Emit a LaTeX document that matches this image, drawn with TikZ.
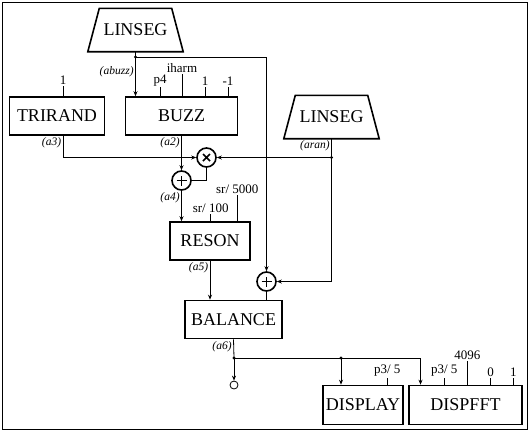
\documentclass[tikz,border=0pt]{standalone}
\usepackage{fontspec}
\setmainfont{Liberation Serif}
\usetikzlibrary{arrows.meta, calc}

\tikzset{
  opbox/.style={draw, line width=1.6pt, minimum height=38pt, inner sep=0pt, font=\fontsize{18}{20}\selectfont},
  genbox/.style={minimum width=72pt, minimum height=43pt, inner sep=0pt, font=\fontsize{18}{20}\selectfont},
  sumnode/.style={circle, draw, line width=1.6pt, minimum size=19pt, inner sep=0pt},
  plusnode/.style={sumnode, path picture={
    \draw[line width=1.6pt] ([xshift=-5pt]path picture bounding box.center) -- ([xshift=5pt]path picture bounding box.center)
      ([yshift=-5pt]path picture bounding box.center) -- ([yshift=5pt]path picture bounding box.center);}},
  timesnode/.style={sumnode, path picture={
    \draw[line width=1.6pt] ([shift={(-3.5pt,-3.5pt)}]path picture bounding box.center) -- ([shift={(3.5pt,3.5pt)}]path picture bounding box.center)
      ([shift={(-3.5pt,3.5pt)}]path picture bounding box.center) -- ([shift={(3.5pt,-3.5pt)}]path picture bounding box.center);}},
  parm/.style={font=\fontsize{13}{14}\selectfont, inner sep=1pt, above},
  sig/.style={font=\fontsize{11.5}{12}\selectfont\itshape, inner sep=1.5pt},
  wire/.style={line width=0.8pt},
  arr/.style={wire, -{Stealth[length=5pt, width=4pt]}},
}

\begin{document}
\begin{tikzpicture}[x=1pt,y=1pt,yscale=-1]
\useasboundingbox (0,0) rectangle (529,432);
\draw[line width=0.8pt] (2,2) rectangle (527,429);

% generators and units
\node[genbox] (linA) at (135.5,30) {LINSEG};
\node[genbox] (linB) at (331.5,117) {LINSEG};
\foreach \n in {linA,linB}
  \draw[line width=1.6pt] (\n.north west) -- (\n.north east) -- ($(\n.south east)+(11.5,0)$)
    -- ($(\n.south west)+(-11.5,0)$) -- cycle;
\node[opbox, minimum width=95pt] (tri) at (57,116) {TRIRAND};
\node[opbox, minimum width=112pt] (buzz) at (181.5,116) {BUZZ};
\node[timesnode] (mul) at (206.5,157.5) {};
\node[plusnode] (addA) at (181.5,180.5) {};
\node[opbox, minimum width=80pt] (reson) at (210,241) {RESON};
\node[plusnode] (addB) at (266.5,281.5) {};
\node[opbox, minimum width=97pt] (bal) at (233.5,319.5) {BALANCE};
\node[circle, draw, line width=0.8pt, minimum size=8pt, inner sep=0pt] (outc) at (234,385) {};
\node[opbox, minimum width=80pt, minimum height=39pt] (disp) at (363,405) {DISPLAY};
\node[opbox, minimum width=113pt, minimum height=39pt] (fft) at (465.5,405) {DISPFFT};

% branch points
\coordinate (jA) at (135.5,57);
\coordinate (jB) at (331.5,157.5);
\coordinate (jC) at (234,358);
\coordinate (jD) at (341,358);
\foreach \j in {jA,jB,jC,jD}
  \fill (\j) circle (1.6);

% parameters
\draw[wire] ([xshift=6pt]tri.north) -- ++(0,-10) node[parm] {1};
\foreach \dx/\h/\t in {-21.5/9/p4, 0.5/22/iharm, 23.5/9/1, 46.5/9/-1}
  \draw[wire] ([xshift=\dx pt]buzz.north) -- ++(0,-\h) node[parm] {\t};
\foreach \dx/\h/\t in {0.7/7/{sr/ 100}, 27.3/26/{sr/ 5000}}
  \draw[wire] ([xshift=\dx pt]reson.north) -- ++(0,-\h) node[parm] {\t};
\draw[wire] ([xshift=24.3pt]disp.north) -- ++(0,-7) node[parm] {p3/ 5};
\foreach \dx/\h/\t in {-21.2/7/{p3/ 5}, 1.8/24/4096, 25.2/7/0, 47.8/7/1}
  \draw[wire] ([xshift=\dx pt]fft.north) -- ++(0,-\h) node[parm] {\t};

% signals
\draw[arr] (linA.south) -- (linA.south |- buzz.north) node[pos=0.44, sig, anchor=east] {(abuzz)};
\draw[arr] (jA) -| (addB.north);
\draw[arr] ([xshift=6pt]tri.south) |- (mul.west) node[pos=0, sig, anchor=north east] {(a3)};
\draw[arr] (buzz.south) -- (addA.north) node[pos=0, sig, anchor=north east] {(a2)};
\draw[wire] (linB.south) -- (jB) node[pos=0, sig, anchor=north east] {(aran)};
\draw[arr] (jB) -- (mul.east);
\draw[arr] (jB) |- (addB.east);
\draw[wire] (mul.south) |- (addA.east);
\draw[arr] (addA.south) -- (addA.south |- reson.north) node[pos=0, sig, anchor=north east] {(a4)};
\draw[arr] (reson.south) -- (reson.south |- bal.north) node[pos=0, sig, anchor=north east] {(a5)};
\draw[wire] (addB.south) -- (addB.south |- bal.north);
\draw[wire] (bal.south) -- (jC) node[pos=0, sig, anchor=north east] {(a6)};
\draw[arr] (jC) -- (outc.north);
\draw[arr] (jC) -| ([xshift=-45pt]fft.north);
\draw[arr] (jD) -- (jD |- disp.north);

\end{tikzpicture}
\end{document}
